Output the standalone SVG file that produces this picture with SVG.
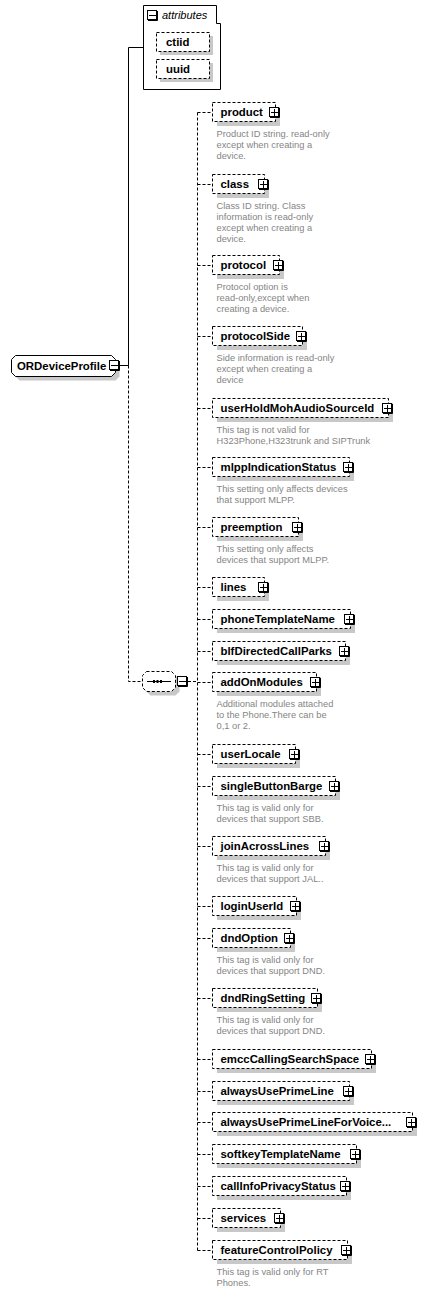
<svg xmlns="http://www.w3.org/2000/svg" xmlns:xlink="http://www.w3.org/1999/xlink" width="428" height="1293" viewBox="0 0 428 1293">
<style>
.el{fill:#fff;stroke:#000;stroke-width:1;stroke-dasharray:3,2}
.sh{fill:#c8c8c8;stroke:none}
.lbl{font-family:"Liberation Sans",Arial,sans-serif;font-weight:bold;font-size:11.4px;fill:#000}
.desc{font-family:"Liberation Sans",Arial,sans-serif;font-size:9.3px;fill:#858585}
.conn{fill:none;stroke:#000;stroke-width:1;stroke-dasharray:3,2}
.solid{fill:none;stroke:#000;stroke-width:1}
</style>
<defs>
<g id="plus"><rect x="0.5" y="0.5" width="9" height="9" fill="#fff" stroke="#000"/><path d="M10.5 1V10.5H1" fill="none" stroke="#000"/><path d="M2 5.5H9M5.5 2V9" fill="none" stroke="#000"/></g>
<g id="minus"><rect x="0.5" y="0.5" width="9" height="9" fill="#fff" stroke="#000"/><path d="M10.5 1V10.5H1" fill="none" stroke="#000"/><path d="M2 5.5H9" fill="none" stroke="#000"/></g>
</defs>

<g id="connectors">
<path class="solid" d="M143.5 47.5H128.5V365.5M120 365.5H128.5"/>
<path class="conn" d="M128.5 365.5V681.5H142.5"/>
<path class="conn" d="M188 681.5H197.5"/>
<path class="conn" d="M197.5 112.5V1250.5"/>
<path class="conn" d="M197.5 112.5H212.5M197.5 184.5H212.5M197.5 265.5H212.5M197.5 336.5H212.5M197.5 408.5H212.5M197.5 467.5H212.5M197.5 527.5H212.5M197.5 587.5H212.5M197.5 619.5H212.5M197.5 651.5H212.5M197.5 682.5H212.5M197.5 754.5H212.5M197.5 786.5H212.5M197.5 846.5H212.5M197.5 906.5H212.5M197.5 938.5H212.5M197.5 998.5H212.5M197.5 1059.5H212.5M197.5 1091.5H212.5M197.5 1122.5H212.5M197.5 1154.5H212.5M197.5 1186.5H212.5M197.5 1218.5H212.5M197.5 1250.5H212.5"/>
</g>

<g id="attributes">
<path d="M143.5 5.5H216.5V23.5H220.5V89.5H143.5Z" fill="#fff" stroke="#000"/>
<use xlink:href="#minus" x="147" y="10"/>
<text x="162" y="19" font-family="Liberation Sans,Arial,sans-serif" font-style="italic" font-size="11px">attributes</text>
</g>
<g id="ctiid">
<rect class="sh" x="160" y="36" width="53" height="19"/>
<rect class="el" x="156.5" y="32.5" width="53" height="19"/>
<text class="lbl" x="166" y="46">ctiid</text>
</g>
<g id="uuid">
<rect class="sh" x="160" y="63" width="53" height="19"/>
<rect class="el" x="156.5" y="59.5" width="53" height="19"/>
<text class="lbl" x="166" y="73">uuid</text>
</g>

<g id="ORDeviceProfile">
<path class="sh" d="M19.5 359.5H115.5L119.5 363.5V376.5L115.5 380.5H19.5L15.5 376.5V363.5Z"/>
<path d="M15.5 355.5H111.5L115.5 359.5V372.5L111.5 376.5H15.5L11.5 372.5V359.5Z" fill="#fff" stroke="#000"/>
<text class="lbl" x="17" y="370">ORDeviceProfile</text>
<use xlink:href="#minus" x="109" y="360"/>
</g>

<g id="sequence">
<path class="sh" d="M150.5 675.5H175.5L179.5 679.5V691.5L175.5 695.5H150.5L146.5 691.5V679.5Z"/>
<path class="el" d="M146.5 671.5H171.5L175.5 675.5V687.5L171.5 691.5H146.5L142.5 687.5V675.5Z"/>
<path class="solid" d="M147 681.5H171"/>
<rect x="153" y="680" width="2" height="3" fill="#000"/>
<rect x="156.5" y="680" width="2" height="3" fill="#000"/>
<rect x="160" y="680" width="2" height="3" fill="#000"/>
<use xlink:href="#minus" x="177" y="676"/>
</g>

<g id="product">
<rect class="sh" x="217" y="107" width="63" height="19"/>
<rect class="el" x="212.5" y="102.5" width="63" height="19"/>
<text class="lbl" x="220.5" y="116">product</text>
<use xlink:href="#plus" x="269" y="107"/>
<text class="desc" x="216.5" y="136.5">Product ID string. read-only</text>
<text class="desc" x="216.5" y="147.5">except when creating a</text>
<text class="desc" x="216.5" y="158.5">device.</text>
</g>

<g id="class">
<rect class="sh" x="217" y="179" width="52" height="19"/>
<rect class="el" x="212.5" y="174.5" width="52" height="19"/>
<text class="lbl" x="220.5" y="188">class</text>
<use xlink:href="#plus" x="258" y="179"/>
<text class="desc" x="216.5" y="208.5">Class ID string. Class</text>
<text class="desc" x="216.5" y="219.5">information is read-only</text>
<text class="desc" x="216.5" y="230.5">except when creating a</text>
<text class="desc" x="216.5" y="241.5">device.</text>
</g>

<g id="protocol">
<rect class="sh" x="217" y="260" width="67" height="19"/>
<rect class="el" x="212.5" y="255.5" width="67" height="19"/>
<text class="lbl" x="220.5" y="269">protocol</text>
<use xlink:href="#plus" x="273" y="260"/>
<text class="desc" x="216.5" y="289.5">Protocol option is</text>
<text class="desc" x="216.5" y="300.5">read-only,except when</text>
<text class="desc" x="216.5" y="311.5">creating a device.</text>
</g>

<g id="protocolSide">
<rect class="sh" x="217" y="331" width="90" height="19"/>
<rect class="el" x="212.5" y="326.5" width="90" height="19"/>
<text class="lbl" x="220.5" y="340">protocolSide</text>
<use xlink:href="#plus" x="296" y="331"/>
<text class="desc" x="216.5" y="360.5">Side information is read-only</text>
<text class="desc" x="216.5" y="371.5">except when creating a</text>
<text class="desc" x="216.5" y="382.5">device</text>
</g>

<g id="userHoldMohAudioSourceId">
<rect class="sh" x="217" y="403" width="176" height="19"/>
<rect class="el" x="212.5" y="398.5" width="176" height="19"/>
<text class="lbl" x="220.5" y="412">userHoldMohAudioSourceId</text>
<use xlink:href="#plus" x="382" y="403"/>
<text class="desc" x="216.5" y="432.5">This tag is not valid for</text>
<text class="desc" x="216.5" y="443.5">H323Phone,H323trunk and SIPTrunk</text>
</g>

<g id="mlppIndicationStatus">
<rect class="sh" x="217" y="462" width="137" height="19"/>
<rect class="el" x="212.5" y="457.5" width="137" height="19"/>
<text class="lbl" x="220.5" y="471">mlppIndicationStatus</text>
<use xlink:href="#plus" x="343" y="462"/>
<text class="desc" x="216.5" y="491.5">This setting only affects devices</text>
<text class="desc" x="216.5" y="502.5">that support MLPP.</text>
</g>

<g id="preemption">
<rect class="sh" x="217" y="522" width="86" height="19"/>
<rect class="el" x="212.5" y="517.5" width="86" height="19"/>
<text class="lbl" x="220.5" y="531">preemption</text>
<use xlink:href="#plus" x="292" y="522"/>
<text class="desc" x="216.5" y="551.5">This setting only affects</text>
<text class="desc" x="216.5" y="562.5">devices that support MLPP.</text>
</g>

<g id="lines">
<rect class="sh" x="217" y="582" width="52" height="19"/>
<rect class="el" x="212.5" y="577.5" width="52" height="19"/>
<text class="lbl" x="220.5" y="591">lines</text>
<use xlink:href="#plus" x="258" y="582"/>
</g>

<g id="phoneTemplateName">
<rect class="sh" x="217" y="614" width="138" height="19"/>
<rect class="el" x="212.5" y="609.5" width="138" height="19"/>
<text class="lbl" x="220.5" y="623">phoneTemplateName</text>
<use xlink:href="#plus" x="344" y="614"/>
</g>

<g id="blfDirectedCallParks">
<rect class="sh" x="217" y="646" width="133" height="19"/>
<rect class="el" x="212.5" y="641.5" width="133" height="19"/>
<text class="lbl" x="220.5" y="655">blfDirectedCallParks</text>
<use xlink:href="#plus" x="339" y="646"/>
</g>

<g id="addOnModules">
<rect class="sh" x="217" y="677" width="104" height="19"/>
<rect class="el" x="212.5" y="672.5" width="104" height="19"/>
<text class="lbl" x="220.5" y="686">addOnModules</text>
<use xlink:href="#plus" x="310" y="677"/>
<text class="desc" x="216.5" y="706.5">Additional modules attached</text>
<text class="desc" x="216.5" y="717.5">to the Phone.There can be</text>
<text class="desc" x="216.5" y="728.5">0,1 or 2.</text>
</g>

<g id="userLocale">
<rect class="sh" x="217" y="749" width="83" height="19"/>
<rect class="el" x="212.5" y="744.5" width="83" height="19"/>
<text class="lbl" x="220.5" y="758">userLocale</text>
<use xlink:href="#plus" x="289" y="749"/>
</g>

<g id="singleButtonBarge">
<rect class="sh" x="217" y="781" width="123" height="19"/>
<rect class="el" x="212.5" y="776.5" width="123" height="19"/>
<text class="lbl" x="220.5" y="790">singleButtonBarge</text>
<use xlink:href="#plus" x="329" y="781"/>
<text class="desc" x="216.5" y="810.5">This tag is valid only for</text>
<text class="desc" x="216.5" y="821.5">devices that support SBB.</text>
</g>

<g id="joinAcrossLines">
<rect class="sh" x="217" y="841" width="113" height="19"/>
<rect class="el" x="212.5" y="836.5" width="113" height="19"/>
<text class="lbl" x="220.5" y="850">joinAcrossLines</text>
<use xlink:href="#plus" x="319" y="841"/>
<text class="desc" x="216.5" y="870.5">This tag is valid only for</text>
<text class="desc" x="216.5" y="881.5">devices that support JAL..</text>
</g>

<g id="loginUserId">
<rect class="sh" x="217" y="901" width="84" height="19"/>
<rect class="el" x="212.5" y="896.5" width="84" height="19"/>
<text class="lbl" x="220.5" y="910">loginUserId</text>
<use xlink:href="#plus" x="290" y="901"/>
</g>

<g id="dndOption">
<rect class="sh" x="217" y="933" width="78" height="19"/>
<rect class="el" x="212.5" y="928.5" width="78" height="19"/>
<text class="lbl" x="220.5" y="942">dndOption</text>
<use xlink:href="#plus" x="284" y="933"/>
<text class="desc" x="216.5" y="962.5">This tag is valid only for</text>
<text class="desc" x="216.5" y="973.5">devices that support DND.</text>
</g>

<g id="dndRingSetting">
<rect class="sh" x="217" y="993" width="105" height="19"/>
<rect class="el" x="212.5" y="988.5" width="105" height="19"/>
<text class="lbl" x="220.5" y="1002">dndRingSetting</text>
<use xlink:href="#plus" x="311" y="993"/>
<text class="desc" x="216.5" y="1022.5">This tag is valid only for</text>
<text class="desc" x="216.5" y="1033.5">devices that support DND.</text>
</g>

<g id="emccCallingSearchSpace">
<rect class="sh" x="217" y="1054" width="159" height="19"/>
<rect class="el" x="212.5" y="1049.5" width="159" height="19"/>
<text class="lbl" x="220.5" y="1063">emccCallingSearchSpace</text>
<use xlink:href="#plus" x="365" y="1054"/>
</g>

<g id="alwaysUsePrimeLine">
<rect class="sh" x="217" y="1086" width="137" height="19"/>
<rect class="el" x="212.5" y="1081.5" width="137" height="19"/>
<text class="lbl" x="220.5" y="1095">alwaysUsePrimeLine</text>
<use xlink:href="#plus" x="343" y="1086"/>
</g>

<g id="alwaysUsePrimeLineForVoiceMessage">
<rect class="sh" x="217" y="1117" width="200" height="19"/>
<rect class="el" x="212.5" y="1112.5" width="200" height="19"/>
<text class="lbl" x="220.5" y="1126">alwaysUsePrimeLineForVoice...</text>
<use xlink:href="#plus" x="406" y="1117"/>
</g>

<g id="softkeyTemplateName">
<rect class="sh" x="217" y="1149" width="144" height="19"/>
<rect class="el" x="212.5" y="1144.5" width="144" height="19"/>
<text class="lbl" x="220.5" y="1158">softkeyTemplateName</text>
<use xlink:href="#plus" x="350" y="1149"/>
</g>

<g id="callInfoPrivacyStatus">
<rect class="sh" x="217" y="1181" width="134" height="19"/>
<rect class="el" x="212.5" y="1176.5" width="134" height="19"/>
<text class="lbl" x="220.5" y="1190">callInfoPrivacyStatus</text>
<use xlink:href="#plus" x="340" y="1181"/>
</g>

<g id="services">
<rect class="sh" x="217" y="1213" width="68" height="19"/>
<rect class="el" x="212.5" y="1208.5" width="68" height="19"/>
<text class="lbl" x="220.5" y="1222">services</text>
<use xlink:href="#plus" x="274" y="1213"/>
</g>

<g id="featureControlPolicy">
<rect class="sh" x="217" y="1245" width="135" height="19"/>
<rect class="el" x="212.5" y="1240.5" width="135" height="19"/>
<text class="lbl" x="220.5" y="1254">featureControlPolicy</text>
<use xlink:href="#plus" x="341" y="1245"/>
<text class="desc" x="216.5" y="1274.5">This tag is valid only for RT</text>
<text class="desc" x="216.5" y="1285.5">Phones.</text>
</g>
</svg>
